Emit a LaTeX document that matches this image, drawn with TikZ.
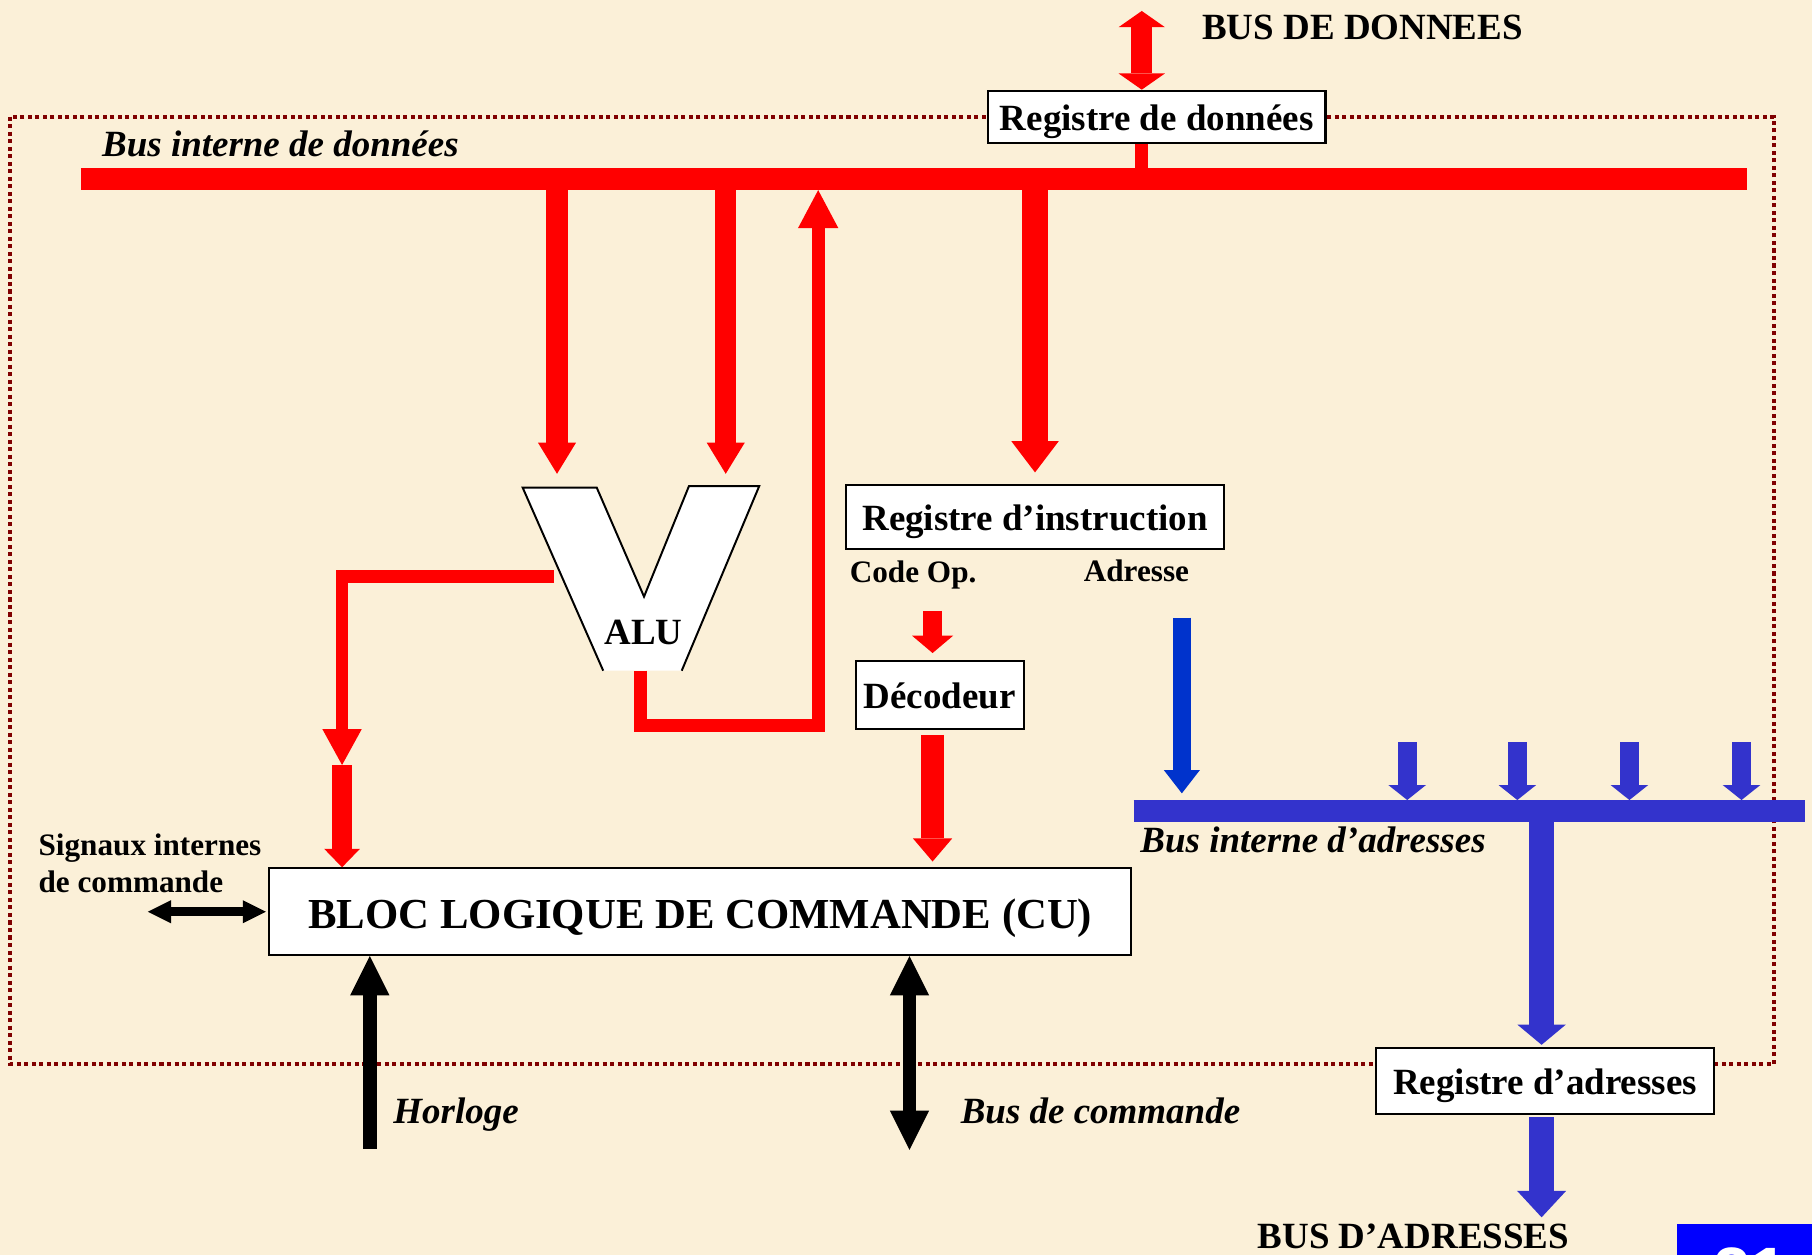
\documentclass[tikz,border=0pt]{standalone}
\usepackage{fontspec}
\setmainfont{Liberation Serif}
\newfontfamily\arial{Liberation Sans}
\usetikzlibrary{arrows.meta,calc}
\definecolor{fond}{RGB}{251,240,216}
\definecolor{bordeaux}{RGB}{128,0,0}
\definecolor{rouge}{RGB}{255,0,0}
\definecolor{bleuA}{RGB}{0,51,204}
\definecolor{bleuB}{RGB}{51,51,204}
\definecolor{bleuP}{RGB}{0,0,255}

\begin{document}
\begin{tikzpicture}[x=0.5pt,y=-0.5pt,
	registre/.style={draw=black,line width=0.9pt,fill=white,inner sep=0pt,
		text height=11.8pt,text depth=0pt,
		font=\fontsize{16}{19}\selectfont\bfseries},
	texte/.style={anchor=base west,inner sep=0pt,
		font=\fontsize{16}{19}\selectfont\bfseries},
	ital/.style={texte,font=\fontsize{16}{19}\selectfont\bfseries\itshape},
	petit/.style={texte,font=\fontsize{13.5}{16}\selectfont\bfseries}]
\fill[fond] (0,0) rectangle (1568,1086);
\useasboundingbox (0,0) rectangle (1568,1086);

% cadre du processeur
\draw[bordeaux,line width=1.75pt,dash pattern=on 1.75pt off 1.5pt]
	(9,101) rectangle (1535,921);

% points des bus
\coordinate (busG) at (70,155);
\coordinate (busD) at (1512,155);
\coordinate (abusG) at (981,702);
\coordinate (abusD) at (1562,702);
\coordinate (donExt) at (988,9.5);
\coordinate (boucle) at (708,628);
\coordinate (aluA) at (482,422);
\coordinate (aluB) at (628,421);
\coordinate (aluS) at (554,580.4);
\coordinate (aluG) at (479,499);
\coordinate (jonc) at (296,662);
\coordinate (cop) at (807,528.7);
\coordinate (adr) at (1022.7,534.5);
\coordinate (adExt) at (1334,1053.4);
\coordinate (horl) at (320,994);
\coordinate (bcom) at (787,995);
\coordinate (sig) at (128,789);

% registres
\node[registre,minimum width=146pt,minimum height=22.75pt] (rdon)
	at (1001,101.25) {Registre de données};
\node[registre,minimum width=163.85pt,minimum height=27.65pt] (rinst)
	at (895.65,447.35) {Registre d’instruction};
\node[registre,minimum width=72.75pt,minimum height=29.5pt] (deco)
	at (813.25,601.5) {Décodeur};
\node[registre,minimum width=373pt,minimum height=37.5pt,text height=14.4pt,
	font=\fontsize{18.5}{22}\selectfont\bfseries] (cu)
	at (606,788.9) {BLOC LOGIQUE DE COMMANDE (CU)};
\node[registre,minimum width=146.35pt,minimum height=28.7pt] (radr)
	at (1337,935.3) {Registre d’adresses};

% ALU
\draw[fill=white,line width=0.85pt] (522,580.4) -- (452.3,422) -- (516.4,422)
	-- (557.3,516.3) -- (596.2,420.6) -- (657,420.6) -- (589.9,580.4);
\node[anchor=base,inner sep=0pt,font=\fontsize{16}{19}\selectfont\bfseries]
	(alu) at (556.8,558) {ALU};

% bus de donnees
\draw[rouge,line width=9.5pt] (busG) -- (busD);
\draw[rouge,line width=9pt,
	{Triangle[length=7pt,width=20pt,line width=0pt]}-{Triangle[length=7pt,width=20pt,line width=0pt]}]
	(donExt) -- (donExt |- rdon.north);
\draw[rouge,line width=5.5pt] (donExt |- rdon.south) -- (donExt |- busG);
\draw[rouge,line width=9.25pt,-{Triangle[length=13.5pt,width=16.5pt,line width=0pt]},
	shorten >=6pt] (aluA |- busG) -- (aluA);
\draw[rouge,line width=9.25pt,-{Triangle[length=13.5pt,width=16.5pt,line width=0pt]},
	shorten >=5.5pt] (aluB |- busG) -- (aluB);
\draw[rouge,line width=11.5pt,-{Triangle[length=13.5pt,width=20.5pt,line width=0pt]},
	shorten >=5pt] (rinst.north |- busG) -- (rinst.north);
\draw[rouge,line width=5.5pt,-{Triangle[length=16.5pt,width=17.5pt,line width=0pt]},
	shorten >=4.75pt] (aluS) |- (boucle) -- (boucle |- busG);

% vers le bloc de commande
\draw[rouge,line width=5.5pt,-{Triangle[length=15.5pt,width=17pt,line width=0pt]}]
	(aluG) -| (jonc);
\draw[rouge,line width=9pt,-{Triangle[length=8pt,width=15.5pt,line width=0pt]}]
	(jonc) -- (jonc |- cu.north);
\draw[rouge,line width=8.4pt,-{Triangle[length=7.5pt,width=17.75pt,line width=0pt]},
	shorten >=3pt] (cop) -- (cop |- deco.north);
\draw[rouge,line width=9.7pt,-{Triangle[length=10pt,width=17pt,line width=0pt]},
	shorten <=2pt,shorten >=2.5pt] (cop |- deco.south) -- (cop |- cu.north);

% bus d'adresses
\draw[bleuB,line width=9.5pt] (abusG) -- (abusD);
\draw[bleuA,line width=8pt,-{Triangle[length=10pt,width=15.5pt,line width=0pt]},
	shorten >=7.75pt] (adr) -- (adr |- abusG);
\foreach \x in {1217.7,1313,1410,1507}
	\draw[bleuB,line width=8.2pt,-{Triangle[length=6.5pt,width=16.3pt,line width=0pt]},
		shorten >=4.85pt] (\x,642.4) -- (\x,702);
\draw[bleuB,line width=10.5pt,-{Triangle[length=8.75pt,width=21pt,line width=0pt]},
	shorten >=0.8pt] (adExt |- abusG) -- (adExt |- radr.north);
\draw[bleuB,line width=10.5pt,-{Triangle[length=11.5pt,width=21.3pt,line width=0pt]},
	shorten <=1pt] (adExt |- radr.south) -- (adExt);

% horloge, bus de commande, signaux
\draw[line width=5.8pt,-{Triangle[length=17pt,width=17pt,line width=0pt]}]
	(horl) -- (horl |- cu.south);
\draw[line width=5.8pt,
	{Triangle[length=17pt,width=17pt,line width=0pt]}-{Triangle[length=17pt,width=17pt,line width=0pt]}]
	(bcom |- cu.south) -- (bcom);
\draw[line width=3.75pt,
	{Triangle[length=10pt,width=10pt,line width=0pt]}-{Triangle[length=10pt,width=10pt,line width=0pt]},
	shorten >=1pt] (sig) -- (sig -| cu.west);

% textes
\node[texte] (busdon) at (1040,34) {BUS DE DONNEES};
\node[ital] (bid) at (88,135) {Bus interne de données};
\node[petit] (codeop) at (735,504) {Code Op.};
\node[petit] (adresse) at (937.5,503) {Adresse};
\node[ital] (bia) at (986.5,738) {Bus interne d’adresses};
\node[petit] (sig1) at (33,740) {Signaux internes};
\node[petit] (sig2) at (33,772) {de commande};
\node[ital] (horloge) at (340,972) {Horloge};
\node[ital] (buscom) at (831,972) {Bus de commande};
\node[texte] (busad) at (1088,1080) {BUS D’ADRESSES};

% numero de page
\fill[bleuP] (1451,1059) rectangle (1568,1086);
\begin{scope}
\clip (1451,1059) rectangle (1568,1086);
\node[anchor=base west,inner sep=0pt,white,font=\arial\fontsize{29}{34}\selectfont\bfseries]
	(page) at (1482,1120) {21};
\end{scope}
\end{tikzpicture}
\end{document}
